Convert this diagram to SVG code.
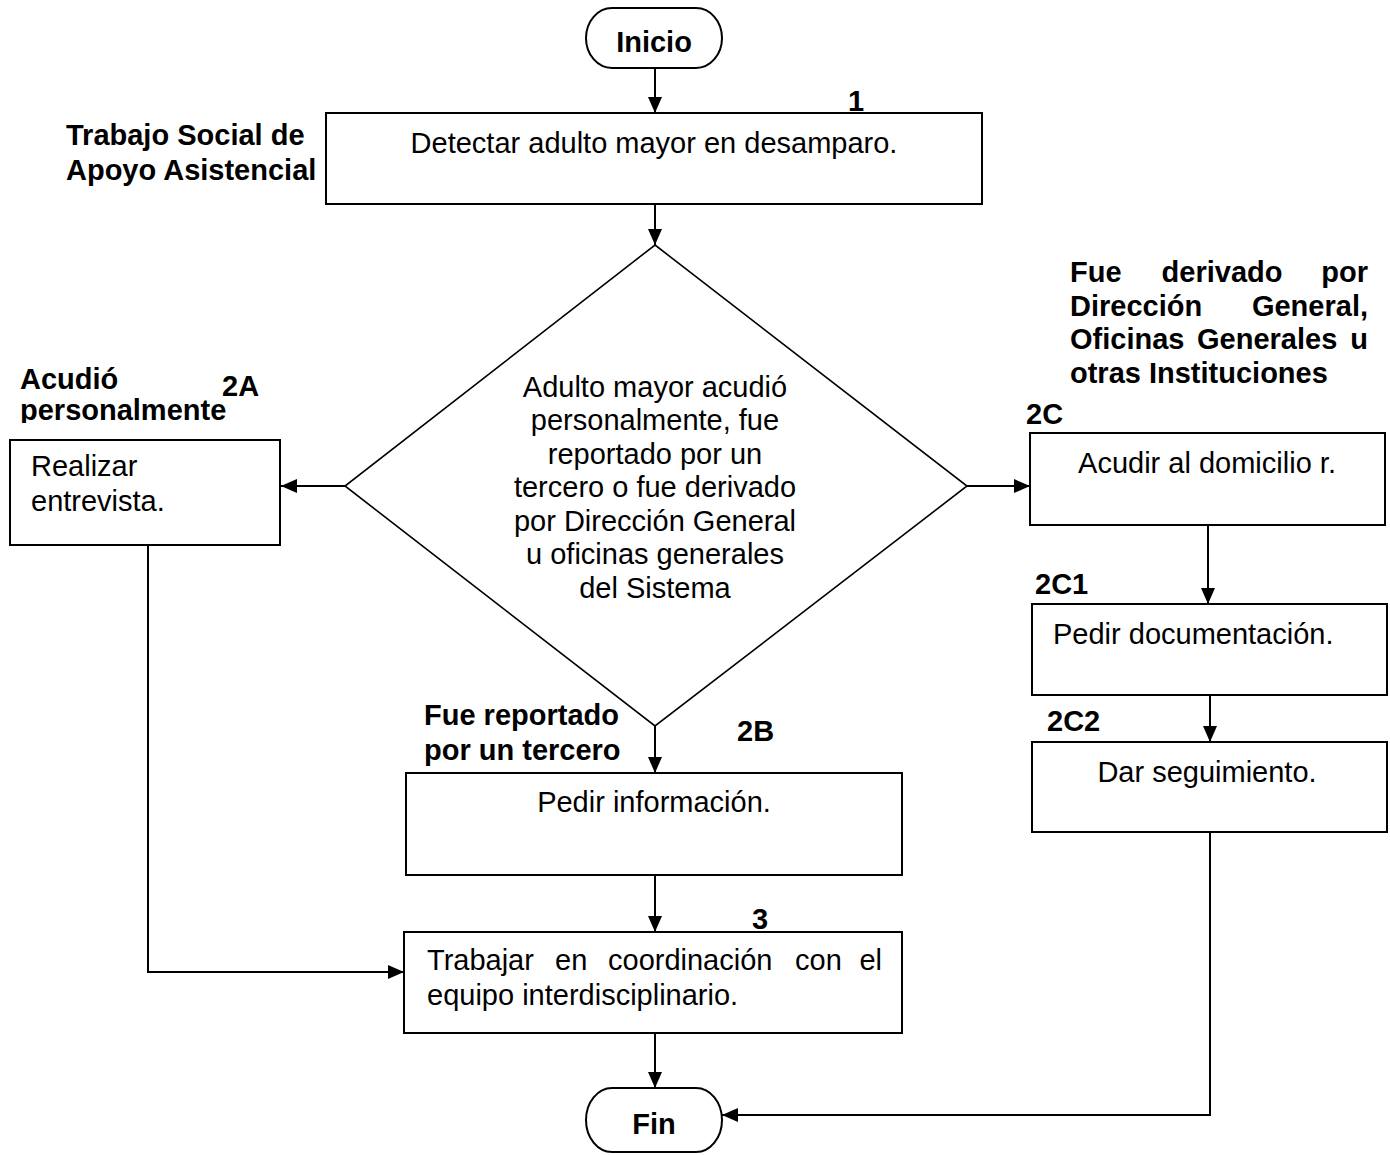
<svg xmlns="http://www.w3.org/2000/svg" width="1390" height="1155" viewBox="0 0 1390 1155">
<style>
.box{fill:#fff;stroke:#000;stroke-width:2}
.dia{fill:#fff;stroke:#000;stroke-width:1.6}
.t{font-family:"Liberation Sans",Arial,sans-serif;font-size:29px;fill:#000}
.b{font-family:"Liberation Sans",Arial,sans-serif;font-size:29px;font-weight:bold;fill:#000}
.c{text-anchor:middle}
.e{text-anchor:end}
.ln{fill:none;stroke:#000;stroke-width:2}
</style>
<defs>
<marker id="ah" markerUnits="userSpaceOnUse" markerWidth="16" markerHeight="14" refX="16" refY="7" orient="auto">
<path d="M0,0 L16,7 L0,14 Z" fill="#000"/>
</marker>
<clipPath id="clipP"><rect x="0" y="360" width="300" height="63"/></clipPath>
</defs>

<g id="connectors">
<line class="ln" x1="655" y1="68" x2="655" y2="113" marker-end="url(#ah)"/>
<line class="ln" x1="655" y1="204" x2="655" y2="245" marker-end="url(#ah)"/>
<line class="ln" x1="345" y1="486" x2="281" y2="486" marker-end="url(#ah)"/>
<line class="ln" x1="967" y1="486" x2="1030" y2="486" marker-end="url(#ah)"/>
<line class="ln" x1="1208" y1="525" x2="1208" y2="604" marker-end="url(#ah)"/>
<line class="ln" x1="1210" y1="695" x2="1210" y2="742" marker-end="url(#ah)"/>
<polyline class="ln" points="1210,832 1210,1115 722,1115" marker-end="url(#ah)"/>
<line class="ln" x1="655" y1="726" x2="655" y2="773" marker-end="url(#ah)"/>
<line class="ln" x1="655" y1="875" x2="655" y2="932" marker-end="url(#ah)"/>
<polyline class="ln" points="148,545 148,972 404,972" marker-end="url(#ah)"/>
<line class="ln" x1="655" y1="1033" x2="655" y2="1088" marker-end="url(#ah)"/>
</g>

<g id="inicio">
<path class="box" d="M612,8 H696 A26,30 0 0 1 696,68 H612 A26,30 0 0 1 612,8 Z"/>
<text class="b c" x="654" y="52">Inicio</text>
</g>

<g id="step1">
<rect class="box" x="326" y="113" width="656" height="91"/>
<text class="t c" x="654" y="153">Detectar adulto mayor en desamparo.</text>
<text class="b" x="848" y="111">1</text>
</g>

<g id="lane-label">
<text class="b" x="66" y="145">Trabajo Social de</text>
<text class="b" x="66" y="180">Apoyo Asistencial</text>
</g>

<g id="decision">
<polygon class="dia" points="655,245 967,486 655,726 345,486"/>
<text class="t c" x="655" y="397">Adulto mayor acudió</text>
<text class="t c" x="655" y="430">personalmente, fue</text>
<text class="t c" x="655" y="464">reportado por un</text>
<text class="t c" x="655" y="497">tercero o fue derivado</text>
<text class="t c" x="655" y="531">por Dirección General</text>
<text class="t c" x="655" y="564">u oficinas generales</text>
<text class="t c" x="655" y="598">del Sistema</text>
</g>

<g id="step2A">
<text class="b" x="20" y="389">Acudió</text>
<text class="b" x="20" y="420" clip-path="url(#clipP)">personalmente</text>
<text class="b" x="222" y="396">2A</text>
<rect class="box" x="10" y="440" width="270" height="105"/>
<text class="t" x="31" y="476">Realizar</text>
<text class="t" x="31" y="511">entrevista.</text>
</g>

<g id="step2C">
<text class="b" x="1070" y="282">Fue</text>
<text class="b c" x="1222" y="282">derivado</text>
<text class="b e" x="1368" y="282">por</text>
<text class="b" x="1070" y="316">Dirección</text>
<text class="b e" x="1368" y="316">General,</text>
<text class="b" x="1070" y="349">Oficinas</text>
<text class="b" x="1197" y="349">Generales</text>
<text class="b e" x="1368" y="349">u</text>
<text class="b" x="1070" y="383">otras Instituciones</text>
<text class="b" x="1026" y="424">2C</text>
<rect class="box" x="1030" y="433" width="355" height="92"/>
<text class="t c" x="1207" y="473">Acudir al domicilio r.</text>
</g>

<g id="step2C1">
<text class="b" x="1035" y="594">2C1</text>
<rect class="box" x="1032" y="604" width="355" height="91"/>
<text class="t" x="1053" y="644">Pedir documentación.</text>
</g>

<g id="step2C2">
<text class="b" x="1047" y="731">2C2</text>
<rect class="box" x="1032" y="742" width="355" height="90"/>
<text class="t c" x="1207" y="782">Dar seguimiento.</text>
</g>

<g id="step2B">
<text class="b" x="424" y="725">Fue reportado</text>
<text class="b" x="424" y="760">por un tercero</text>
<text class="b" x="737" y="741">2B</text>
<rect class="box" x="406" y="773" width="496" height="102"/>
<text class="t c" x="654" y="812">Pedir información.</text>
</g>

<g id="step3">
<text class="b" x="752" y="929">3</text>
<rect class="box" x="404" y="932" width="498" height="101"/>
<text class="t" x="427" y="970">Trabajar</text>
<text class="t" x="555" y="970">en</text>
<text class="t" x="608" y="970">coordinación</text>
<text class="t" x="795" y="970">con</text>
<text class="t e" x="882" y="970">el</text>
<text class="t" x="427" y="1005">equipo interdisciplinario.</text>
</g>

<g id="fin">
<path class="box" d="M612,1088 H696 A26,32 0 0 1 696,1152 H612 A26,32 0 0 1 612,1088 Z"/>
<text class="b c" x="654" y="1134">Fin</text>
</g>
</svg>
